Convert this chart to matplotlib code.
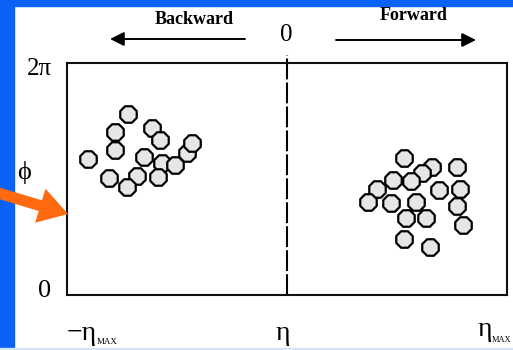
import numpy as np
import matplotlib
matplotlib.use("Agg")
import matplotlib.pyplot as plt
from matplotlib.patches import Rectangle, FancyArrowPatch

# hits, backward cluster (eta in units of eta_max, phi in units of pi)
back_eta = [-0.723, -0.782, -0.614, -0.577, -0.782, -0.905, -0.650, -0.568,
            -0.509, -0.455, -0.432, -0.682, -0.586, -0.809, -0.727]
back_phi = [1.560, 1.405, 1.440, 1.336, 1.250, 1.172, 1.190, 1.138,
            1.121, 1.224, 1.310, 1.026, 1.017, 1.009, 0.931]

# hits, forward cluster
fwd_eta = [0.532, 0.659, 0.614, 0.773, 0.482, 0.564, 0.409, 0.691, 0.786,
           0.368, 0.473, 0.586, 0.773, 0.541, 0.632, 0.800, 0.532, 0.650]
fwd_phi = [1.181, 1.103, 1.052, 1.103, 0.991, 0.983, 0.914, 0.905, 0.914,
           0.802, 0.793, 0.802, 0.767, 0.664, 0.664, 0.603, 0.483, 0.414]

W, H = 513, 350
serif = ["Liberation Serif", "DejaVu Serif"]


def px(x, y):
    # pixel position -> figure fraction
    return x / W, 1 - y / H


fig = plt.figure(figsize=(W / 100, H / 100), dpi=100)
fig.patch.set_facecolor("white")

# blue slide frame
blue = "#0a62f6"
fig.patches.append(Rectangle((0, 0), 14 / W, 1, transform=fig.transFigure,
                             color=blue, zorder=0))
fig.patches.append(Rectangle((0, 1 - 6 / H), 1, 6 / H, transform=fig.transFigure,
                             color=blue, zorder=0))
fig.patches.append(Rectangle((0, 0), 1, 2 / H, transform=fig.transFigure,
                             color="#d6e4fb", zorder=0))

ax = fig.add_axes([67 / W, 55 / H, 440 / W, 232 / H])
ax.set_xlim(-1, 1)
ax.set_ylim(0, 2 * np.pi)
ax.set_xticks([])
ax.set_yticks([])
for s in ax.spines.values():
    s.set_linewidth(1.5)
    s.set_color("#111111")

ax.axvline(0, ymin=0, ymax=1.035, color="black", lw=1.5,
           linestyle=(0, (10, 1.5)), clip_on=False)

kw = dict(marker="8", s=165, facecolor="#e6e6e6", edgecolor="black",
          linewidths=1.6, zorder=3)
ax.scatter(back_eta, np.array(back_phi) * np.pi, **kw)
ax.scatter(fwd_eta, np.array(fwd_phi) * np.pi, **kw)

# labels
fig.text(*px(39, 69), "2\u03c0", family=serif, fontsize=18, ha="center", va="center")
fig.text(*px(45, 291), "0", family=serif, fontsize=19, ha="center", va="center")
fig.text(*px(24, 172), "\u03d5", family=serif, fontsize=19, ha="center", va="center")
fig.text(*px(97, 333), "\u2212\u03b7", family=serif, fontsize=20, ha="right", va="center")
fig.text(*px(97, 342), "MAX", family=serif, fontsize=6.5, ha="left", va="center")
fig.text(*px(283, 334), "\u03b7", family=serif, fontsize=20, ha="center", va="center")
fig.text(*px(492, 330), "\u03b7", family=serif, fontsize=20, ha="right", va="center")
fig.text(*px(492, 340), "MAX", family=serif, fontsize=6, ha="left", va="center")
fig.text(*px(286, 35), "0", family=serif, fontsize=18, ha="center", va="center")
fig.text(*px(194, 20), "Backward", family=serif, fontsize=13, weight="bold",
         ha="center", va="center")
fig.text(*px(414, 15), "Forward", family=serif, fontsize=13, weight="bold",
         ha="center", va="center")

# direction arrows
for x0, x1, y in [(245, 110, 39), (336, 476, 40)]:
    fig.patches.append(FancyArrowPatch(px(x0, y), px(x1, y), transform=fig.transFigure,
                                       arrowstyle="-|>,head_length=0.6,head_width=0.3",
                                       mutation_scale=14,
                                       lw=1.4, color="black", shrinkA=0, shrinkB=0))

# orange pointer
fig.patches.append(FancyArrowPatch(px(-5, 192), px(68, 214), transform=fig.transFigure,
                                   arrowstyle="simple,head_length=1.3,head_width=1.6,tail_width=0.5",
                                   mutation_scale=16, color="#ff6a10", lw=0,
                                   shrinkA=0, shrinkB=0, zorder=5))

fig.savefig("out.png", dpi=100)
